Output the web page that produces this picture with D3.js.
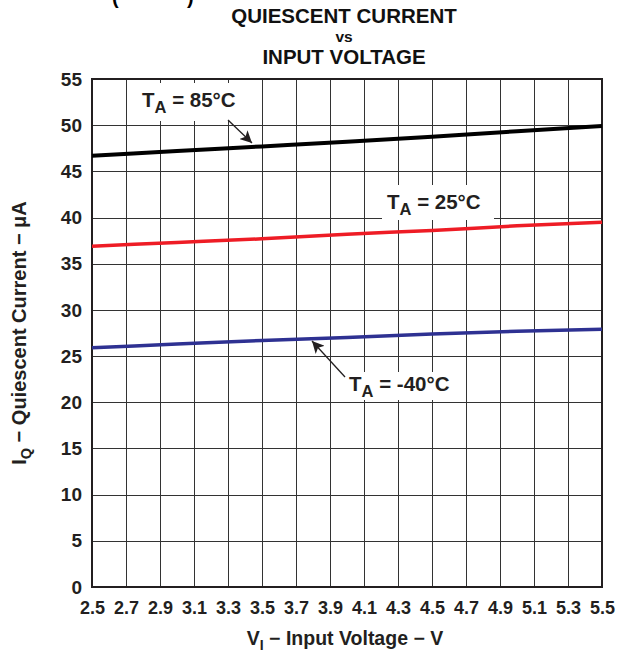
<!DOCTYPE html>
<html>
<head>
<meta charset="utf-8">
<script src="https://cdn.jsdelivr.net/npm/d3@7"></script>
<style>
  html, body { margin: 0; padding: 0; background: #fff; }
  svg { display: block; font-family: "Liberation Sans", Arial, Helvetica, sans-serif; }
</style>
</head>
<body>
<svg id="chart" width="627" height="653"></svg>
<script>
// ---- data ----
const voltages = [2.5, 3.0, 3.5, 4.0, 4.5, 5.0, 5.5];
const iq85 = [46.7, 47.2, 47.7, 48.2, 48.75, 49.35, 49.9];
const iq25 = [36.9, 37.3, 37.7, 38.2, 38.6, 39.1, 39.5];
const iqM40 = [25.9, 26.3, 26.7, 27.0, 27.4, 27.7, 27.9];
const xTicks = [2.5, 2.7, 2.9, 3.1, 3.3, 3.5, 3.7, 3.9, 4.1, 4.3, 4.5, 4.7, 4.9, 5.1, 5.3, 5.5];
const yTicks = [0, 5, 10, 15, 20, 25, 30, 35, 40, 45, 50, 55];
const seriesNames = ["85°C", "25°C", "-40°C"];
const titleLines = ["QUIESCENT CURRENT", "vs", "INPUT VOLTAGE"];

const series = [
  { name: seriesNames[0], values: iq85, color: "#000000", width: 4 },
  { name: seriesNames[1], values: iq25, color: "#ee1c25", width: 3.5 },
  { name: seriesNames[2], values: iqM40, color: "#2e3192", width: 3.5 }
];

// ---- layout ----
const svg = d3.select("#chart");
const M = { left: 92, right: 602, top: 79, bottom: 587 };
const x = d3.scaleLinear().domain([2.5, 5.5]).range([M.left, M.right]);
const y = d3.scaleLinear().domain([0, 55]).range([M.bottom, M.top]);

// cut-off fragments at top
svg.append("text").attr("x", 112).attr("y", 4).attr("font-size", 20).attr("font-weight", "bold").text("(");
svg.append("text").attr("x", 187).attr("y", 4).attr("font-size", 20).attr("font-weight", "bold").text(")");

// title
const title = svg.append("g").attr("font-weight", "bold").attr("text-anchor", "middle").attr("fill", "#111");
title.append("text").attr("x", 344).attr("y", 23).attr("font-size", 20.5).text(titleLines[0]);
title.append("text").attr("x", 344).attr("y", 42).attr("font-size", 15.5).text(titleLines[1]);
title.append("text").attr("x", 344).attr("y", 64).attr("font-size", 20.5).text(titleLines[2]);

// grid
const grid = svg.append("g").attr("stroke", "#333").attr("stroke-width", 1).attr("shape-rendering", "crispEdges");
grid.selectAll("line.v").data(xTicks).join("line")
  .attr("x1", d => Math.round(x(d)) + 0.5).attr("x2", d => Math.round(x(d)) + 0.5)
  .attr("y1", M.top).attr("y2", M.bottom);
grid.selectAll("line.h").data(yTicks).join("line")
  .attr("y1", d => Math.round(y(d)) + 0.5).attr("y2", d => Math.round(y(d)) + 0.5)
  .attr("x1", M.left).attr("x2", M.right);

// axes (labels only)
const xAxis = d3.axisBottom(x).tickValues(xTicks).tickSize(0).tickPadding(14).tickFormat(d3.format(".1f"));
const gx = svg.append("g").attr("transform", `translate(0,${M.bottom})`).call(xAxis);
gx.select(".domain").remove();
gx.selectAll("text").attr("font-size", 18).attr("font-weight", "bold").attr("fill", "#231f20")
  .attr("font-family", "Liberation Sans, Arial, sans-serif");

const yAxis = d3.axisLeft(y).tickValues(yTicks).tickSize(0).tickPadding(10);
const gy = svg.append("g").attr("transform", `translate(${M.left},0)`).call(yAxis);
gy.select(".domain").remove();
gy.selectAll("text").attr("font-size", 19).attr("font-weight", "bold").attr("fill", "#231f20")
  .attr("font-family", "Liberation Sans, Arial, sans-serif");

// label background boxes (cover grid)
const boxes = [
  { x0: 130, x1: 242, y0: 83, y1: 121 },
  { x0: 382, x1: 494, y0: 185, y1: 220 },
  { x0: 343, x1: 460, y0: 372, y1: 400 }
];
svg.append("g").selectAll("rect").data(boxes).join("rect")
  .attr("x", d => d.x0).attr("y", d => d.y0).attr("width", d => d.x1 - d.x0).attr("height", d => d.y1 - d.y0)
  .attr("fill", "#fff");

// border
svg.append("rect").attr("x", M.left).attr("y", M.top).attr("width", M.right - M.left).attr("height", M.bottom - M.top)
  .attr("fill", "none").attr("stroke", "#231f20").attr("stroke-width", 2);

// lines
const line = d3.line().x((d, i) => x(voltages[i])).y(d => y(d)).curve(d3.curveMonotoneX);
svg.append("g").selectAll("path").data(series).join("path")
  .attr("d", d => line(d.values)).attr("fill", "none")
  .attr("stroke", d => d.color).attr("stroke-width", d => d.width);

// arrows
const defs = svg.append("defs");
defs.append("marker").attr("id", "ah").attr("viewBox", "0 0 10 10").attr("refX", 10).attr("refY", 5)
  .attr("markerWidth", 12).attr("markerHeight", 12).attr("markerUnits", "userSpaceOnUse").attr("orient", "auto")
  .append("path").attr("d", "M0,0 L10,5 L0,10 L2.5,5 Z").attr("fill", "#231f20");
const arrows = [
  { x1: 228, y1: 120, x2: 252, y2: 143 },
  { x1: 345, y1: 377, x2: 312, y2: 341 }
];
svg.append("g").selectAll("line").data(arrows).join("line")
  .attr("x1", d => d.x1).attr("y1", d => d.y1).attr("x2", d => d.x2).attr("y2", d => d.y2)
  .attr("stroke", "#231f20").attr("stroke-width", 1.3).attr("marker-end", "url(#ah)");

// series labels
const labelPos = [
  { x: 142, y: 107 },
  { x: 387, y: 209 },
  { x: 349, y: 391 }
];
labelPos.forEach((p, i) => {
  const t = svg.append("text").attr("x", p.x).attr("y", p.y).attr("font-size", 20.5).attr("font-weight", "bold").attr("fill", "#231f20");
  t.append("tspan").text("T");
  t.append("tspan").attr("font-size", 16.5).attr("dy", 6).text("A");
  t.append("tspan").attr("dy", -6).text(" = " + seriesNames[i]);
});

// axis titles
const xt = svg.append("text").attr("x", 345).attr("y", 645).attr("text-anchor", "middle")
  .attr("font-size", 19.5).attr("font-weight", "bold").attr("fill", "#231f20");
xt.append("tspan").text("V");
xt.append("tspan").attr("font-size", 14).attr("dy", 5).text("I");
xt.append("tspan").attr("dy", -5).text(" \u2212 Input Voltage \u2212 V");

const yt = svg.append("text").attr("transform", "translate(26,333) rotate(-90)").attr("text-anchor", "middle")
  .attr("font-size", 20).attr("font-weight", "bold").attr("fill", "#231f20");
yt.append("tspan").text("I");
yt.append("tspan").attr("font-size", 14.5).attr("dy", 5).text("Q");
yt.append("tspan").attr("dy", -5).text(" \u2212 Quiescent Current \u2212 \u03bcA");
</script>
</body>
</html>
